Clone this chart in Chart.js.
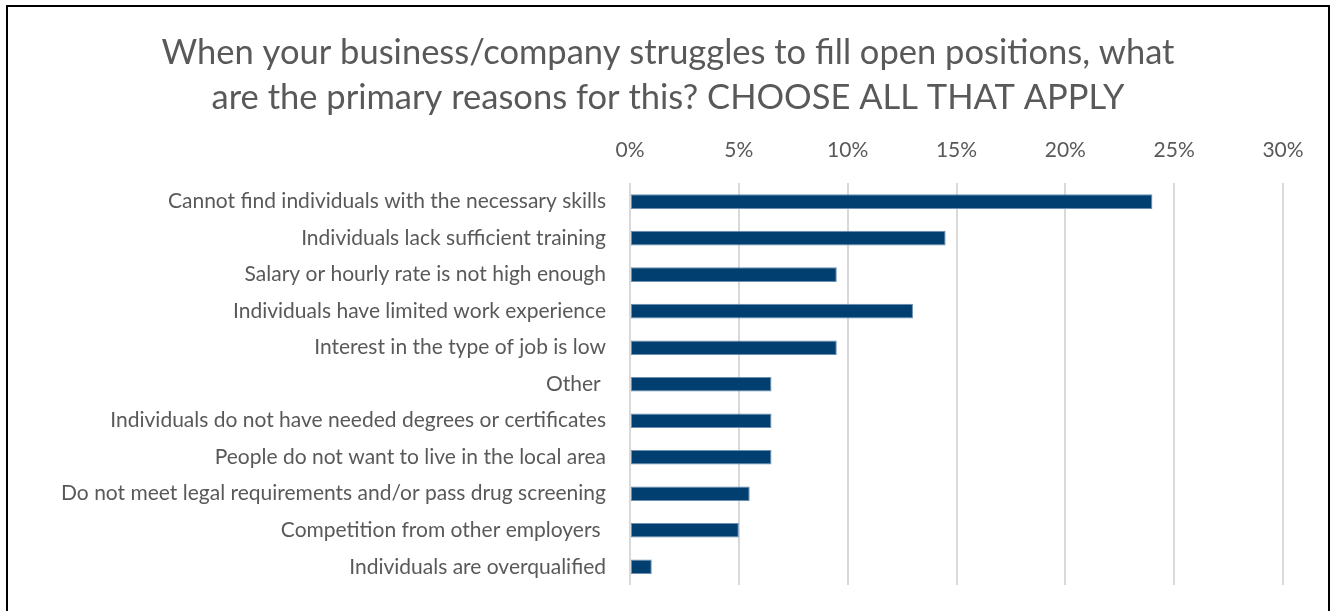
<!DOCTYPE html>
<html>
<head>
<meta charset="utf-8">
<script src="https://cdn.jsdelivr.net/npm/chart.js@4/dist/chart.umd.min.js"></script>
<style>
  body { margin: 0; background: #fff; overflow: hidden; }
  #wrap { position: absolute; left: 0; top: 0; width: 1336px; height: 611px; }
  #frame { position: absolute; left: 6px; top: 5px; width: 1324px; height: 640px; border: 2px solid #000; box-sizing: border-box; pointer-events: none; }
</style>
</head>
<body>
<div id="wrap"><canvas id="chart"></canvas></div>
<div id="frame"></div>
<script>
const categories = [
  "Cannot find individuals with the necessary skills",
  "Individuals lack sufficient training",
  "Salary or hourly rate is not high enough",
  "Individuals have limited work experience",
  "Interest in the type of job is low",
  "Other ",
  "Individuals do not have needed degrees or certificates",
  "People do not want to live in the local area",
  "Do not meet legal requirements and/or pass drug screening",
  "Competition from other employers ",
  "Individuals are overqualified",
];
const values = [24, 14.5, 9.5, 13, 9.5, 6.5, 6.5, 6.5, 5.5, 5, 1];
const xTicks = [0, 5, 10, 15, 20, 25, 30];

const font = "Lato, 'Open Sans', sans-serif";

// center the title over the whole canvas, not only the padded box
const centerTitle = {
  id: "centerTitle",
  afterLayout(chart) {
    const t = chart.titleBlock;
    if (t) {
      t.left = 0;
      t.right = chart.width;
      t.width = chart.width;
    }
  },
};

const ctx = document.getElementById("chart").getContext("2d");
const chart = new Chart(ctx, {
  type: "bar",
  data: {
    labels: categories,
    datasets: [
      {
        label: "Share",
        data: values,
        backgroundColor: "#003f70",
        borderColor: "#6a8fb3",
        borderWidth: 1,
        borderSkipped: false,
        barPercentage: 0.4,
        categoryPercentage: 1,
      },
    ],
  },
  options: {
    indexAxis: "y",
    responsive: true,
    maintainAspectRatio: false,
    animation: false,
    layout: {
      padding: { left: 0, right: 53, top: 30, bottom: 26 },
    },
    scales: {
      x: {
        position: "top",
        min: 0,
        max: 30,
        afterBuildTicks: function (scale) {
          scale.ticks = xTicks.map((v) => ({ value: v }));
        },
        afterFit: function (scale) {
          scale.height = 63;
        },
        ticks: {
          color: "#595959",
          font: { family: font, size: 21 },
          padding: 21,
          callback: function (value) {
            return value + "%";
          },
        },
        grid: {
          color: "#d9d9d9",
          lineWidth: 2,
          drawTicks: false,
        },
        border: { display: false },
      },
      y: {
        afterFit: function (scale) {
          scale.width = 630;
          scale.paddingTop = 0;
          scale.paddingBottom = 0;
        },
        ticks: {
          color: "#595959",
          font: { family: font, size: 21 },
          padding: 16,
        },
        grid: { display: false },
        border: { display: false },
      },
    },
    plugins: {
      legend: { display: false },
      tooltip: { enabled: false },
      title: {
        display: true,
        text: [
          "When your business/company struggles to fill open positions, what",
          "are the primary reasons for this? CHOOSE ALL THAT APPLY",
        ],
        color: "#595959",
        font: { family: font, size: 34.5, weight: "normal", lineHeight: 1.31 },
        padding: { top: 0, bottom: 0 },
      },
    },
  },
  plugins: [centerTitle],
});
</script>
</body>
</html>
